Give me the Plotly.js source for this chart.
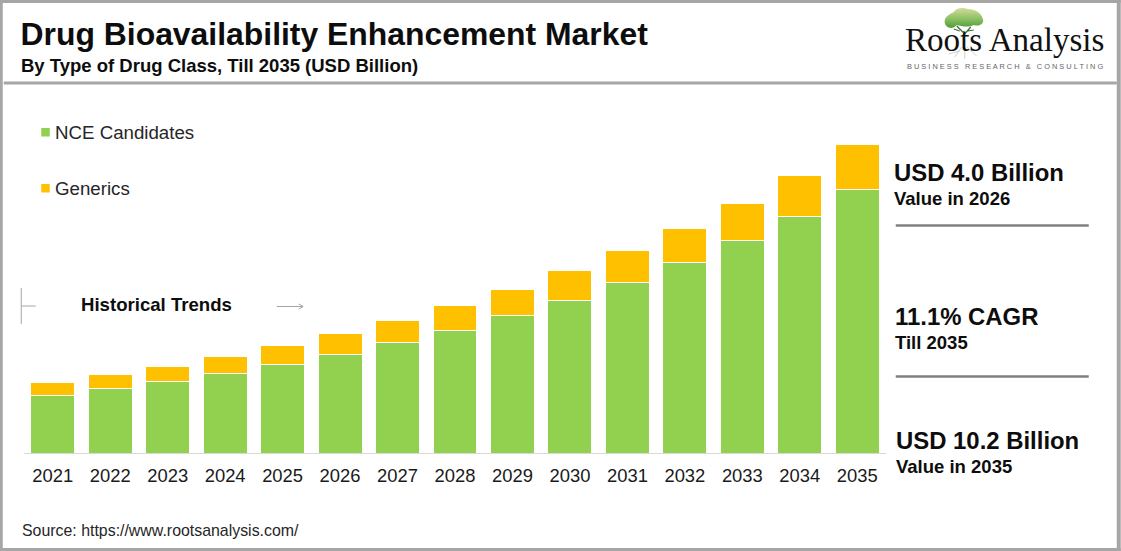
<!DOCTYPE html>
<html><head><meta charset="utf-8">
<script src="https://cdn.plot.ly/plotly-3.0.1.min.js"></script>
<style>html,body{margin:0;padding:0;background:#fff;overflow:hidden}#c{width:1121px;height:551px}</style>
</head><body><div id="c"></div>
<script>
const years = ['2021','2022','2023','2024','2025','2026','2027','2028','2029','2030','2031','2032','2033','2034','2035'];
const nceCandidates = [1.89,2.12,2.37,2.63,2.93,3.26,3.64,4.04,4.54,5.03,5.63,6.29,7.02,7.81,8.71];
const generics = [0.43,0.46,0.48,0.55,0.61,0.68,0.73,0.83,0.86,1.00,1.06,1.13,1.23,1.36,1.49];
const seriesNames = ['NCE Candidates','Generics'];
const seriesColors = ['#92d050','#ffc000'];

const W=1121,H=551,L=24.25,R=886.25,T=121,B=453;
const px=x=>(x-L)/(R-L), py=y=>(B-y)/(B-T);
const FONT='"Liberation Sans", Arial, sans-serif';

function text(x,y,t,size,bold,color){
  return {xref:'paper',yref:'paper',x:px(x),y:py(y),xanchor:'left',yanchor:'middle',showarrow:false,borderpad:0,
    text:bold?'<b>'+t+'</b>':t,font:{family:FONT,size:size,color:color||'#0d0d0d'},align:'left'};
}
function line(x0,y0,x1,y1,color,width){
  return {type:'line',xref:'paper',yref:'paper',x0:px(x0),y0:py(y0),x1:px(x1),y1:py(y1),line:{color:color,width:width}};
}
function rect(x0,y0,x1,y1,color){
  return {type:'rect',xref:'paper',yref:'paper',x0:px(x0),y0:py(y0),x1:px(x1),y1:py(y1),fillcolor:color,line:{width:0}};
}
const grey='#a6a6a6';
const shapes=[
  rect(0,0,W,3,grey),rect(0,548,W,551,grey),rect(0,0,3,551,grey),rect(1117,0,W,551,grey),
  line(4,83,1117,83,grey,3),
  rect(41.5,128,50,136.5,seriesColors[0]),
  rect(41.5,184,50,192.5,seriesColors[1]),
  line(21.5,288,21.5,324,'#a6a6a6',1),
  line(21.5,306,36,306,'#a6a6a6',1),
  line(277,306.5,303,306.5,'#a6a6a6',1),
  line(299,304,303.5,306.5,'#a6a6a6',1),
  line(299,309,303.5,306.5,'#a6a6a6',1),
  line(896,225.5,1089,225.5,'#808080',2.5),
  line(896,376.5,1089,376.5,'#808080',2.5)
];
const annotations=[
  text(20.5,66,'By Type of Drug Class, Till 2035 (USD Billion)',18.5,true),
  text(54.5,132,seriesNames[0],18.7,false,'#262626'),
  text(54.5,188,seriesNames[1],18.7,false,'#262626'),
  text(80.5,304.5,'Historical Trends',18.6,true),
  text(893,172.5,'USD 4.0 Billion',23.9,true),
  text(893,198,'Value in 2026',18.5,true),
  text(894,316.5,'11.1% CAGR',23.9,true),
  text(894,342,'Till 2035',18.5,true),
  text(895,440.5,'USD 10.2 Billion',23.9,true),
  text(895,466,'Value in 2035',18.5,true),
  text(21,530,'Source: https://www.rootsanalysis.com/',15.9,false,'#262626'),
  {xref:'paper',yref:'paper',x:px(904.5),y:py(40),xanchor:'left',yanchor:'middle',showarrow:false,borderpad:0,
   text:'Roots Analysis',font:{family:'"Liberation Serif", serif',size:33.1,color:'#111'}},
  {xref:'paper',yref:'paper',x:px(906.5),y:py(66.5),xanchor:'left',yanchor:'middle',showarrow:false,borderpad:0,
   text:'B U S I N E S S   R E S E A R C H   &amp;   C O N S U L T I N G',font:{family:FONT,size:7.4,color:'#666'}}
];
const tree="<svg xmlns='http://www.w3.org/2000/svg' width='60' height='60' viewBox='0 0 60 60'><defs><linearGradient id='g' x1='0' y1='0' x2='0' y2='1'><stop offset='0' stop-color='#d3dc9c'/><stop offset='.55' stop-color='#8cc063'/><stop offset='1' stop-color='#4f9c3a'/></linearGradient></defs><path d='M10 22C9 15 16 13 19 11C21 7 28 6 33 8C40 8 47 12 48 18C50 22 45 26 39 24C33 27 26 25 22 24C18 29 11 27 10 22Z' fill='url(#g)'/><path d='M29 42L29 30M29 32L22 25M29 34L36 26M25 30L19 28M33 30L39 29' stroke='#3d6b35' stroke-width='1.2' fill='none'/><path d='M27 46L20 56M30 46L30 58M32 46L42 55M25 50L14 53' stroke='#c2c8bd' stroke-width='.8' fill='none'/></svg>";

const common={type:'bar',x:years,hoverinfo:'x+y+name',showlegend:false};
const data=[
  Object.assign({},common,{name:seriesNames[0],y:nceCandidates,marker:{color:seriesColors[0],line:{color:'#ffffff',width:1}}}),
  Object.assign({},common,{name:seriesNames[1],y:generics,marker:{color:seriesColors[1],line:{color:'#ffffff',width:1}}})
];
const layout={
  width:W,height:H,paper_bgcolor:'#fff',plot_bgcolor:'#fff',
  margin:{l:L,r:W-R,t:T,b:H-B,pad:0},autosize:false,
  barmode:'stack',bargap:0.235,
  title:{text:'<b>Drug Bioavailability Enhancement Market</b>',x:20.5/W,xanchor:'left',xref:'container',y:1-33.5/H,yanchor:'middle',yref:'container',pad:{l:0,r:0,t:0,b:0},font:{family:FONT,size:31.9,color:'#0d0d0d'}},
  xaxis:{type:'category',categoryorder:'array',categoryarray:years,range:[-0.5,14.5],showgrid:false,zeroline:false,
    showline:true,linecolor:'#d9d9d9',linewidth:1,ticks:'',ticklabelstandoff:6,tickfont:{family:FONT,size:18.4,color:'#1a1a1a'},fixedrange:true},
  yaxis:{range:[0,10.975],visible:false,fixedrange:true},
  shapes:shapes,annotations:annotations,
  images:[{source:'data:image/svg+xml;utf8,'+encodeURIComponent(tree),xref:'paper',yref:'paper',x:px(935),y:py(1),sizex:(60)/(R-L),sizey:60/(B-T),xanchor:'left',yanchor:'top',layer:'below',sizing:'stretch'}]
};
Plotly.newPlot('c',data,layout,{displayModeBar:false,staticPlot:true});
</script></body></html>
